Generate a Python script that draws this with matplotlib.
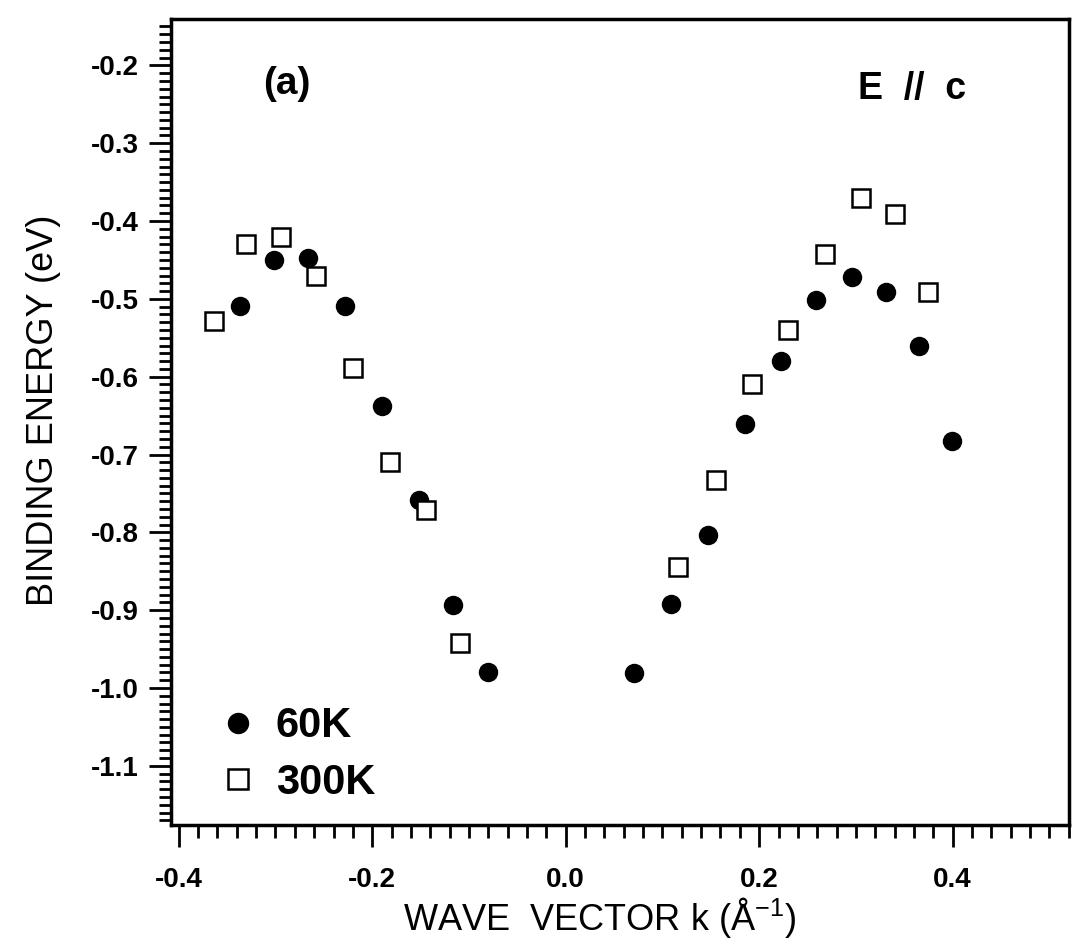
import matplotlib
matplotlib.use('Agg')
import matplotlib.pyplot as plt
from matplotlib.ticker import MultipleLocator, FormatStrFormatter

# 60 K (filled circles)
k_60 = [-0.337, -0.302, -0.266, -0.228, -0.190, -0.152, -0.116, -0.080,
        0.071, 0.109, 0.147, 0.185, 0.223, 0.259, 0.296, 0.331, 0.365, 0.399]
e_60 = [-0.509, -0.450, -0.448, -0.509, -0.638, -0.758, -0.893, -0.980,
        -0.981, -0.892, -0.803, -0.661, -0.580, -0.502, -0.472, -0.491, -0.560, -0.682]

# 300 K (open squares)
k_300 = [-0.364, -0.330, -0.294, -0.258, -0.220, -0.182, -0.144, -0.109,
         0.116, 0.155, 0.193, 0.230, 0.268, 0.305, 0.340, 0.374]
e_300 = [-0.529, -0.429, -0.420, -0.470, -0.589, -0.709, -0.771, -0.942,
         -0.844, -0.733, -0.610, -0.540, -0.442, -0.371, -0.391, -0.491]

labels = ['60K', '300K']


def main():
    plt.rcParams['font.family'] = ['Liberation Sans', 'DejaVu Sans']
    plt.rcParams['mathtext.fontset'] = 'custom'
    plt.rcParams['mathtext.rm'] = 'Liberation Sans'
    plt.rcParams['mathtext.it'] = 'Liberation Sans:italic'
    plt.rcParams['mathtext.bf'] = 'Liberation Sans:bold'
    plt.rcParams['axes.unicode_minus'] = False

    fig = plt.figure(figsize=(10.79, 9.51), dpi=100)
    ax = fig.add_axes([0.1585, 0.1325, 0.832, 0.847])

    ax.plot(k_60, e_60, 'o', color='black', ms=14, mew=0, label=labels[0])
    ax.plot(k_300, e_300, 's', mfc='white', mec='black', ms=13, mew=1.8,
            label=labels[1])

    ax.set_xlim(-0.408, 0.52)
    ax.set_ylim(-1.176, -0.141)

    ax.xaxis.set_major_locator(MultipleLocator(0.2))
    ax.xaxis.set_minor_locator(MultipleLocator(0.02))
    ax.yaxis.set_major_locator(MultipleLocator(0.1))
    ax.yaxis.set_minor_locator(MultipleLocator(0.01))
    ax.xaxis.set_major_formatter(FormatStrFormatter('%.1f'))
    ax.yaxis.set_major_formatter(FormatStrFormatter('%.1f'))

    for s in ax.spines.values():
        s.set_linewidth(2.5)
    ax.tick_params(which='both', direction='out', width=2, top=False, right=False)
    ax.tick_params(axis='x', which='major', length=16, pad=14)
    ax.tick_params(axis='x', which='minor', length=9)
    ax.tick_params(axis='y', which='major', length=16, pad=7)
    ax.tick_params(axis='y', which='minor', length=9)
    for lab in ax.get_xticklabels() + ax.get_yticklabels():
        lab.set_fontsize(20)
        lab.set_fontweight('bold')

    ax.set_xlabel(r'WAVE  VECTOR k (Å$^{-1}$)', fontsize=26, va='center')
    ax.xaxis.set_label_coords(0.478, -0.115)
    ax.set_ylabel('BINDING ENERGY (eV)', fontsize=26, va='center')
    ax.yaxis.set_label_coords(-0.1425, 0.515)

    ax.text(0.129, 0.920, '(a)', transform=ax.transAxes, fontsize=28,
            fontweight='bold', ha='center', va='center')
    ax.text(0.826, 0.914, 'E  //  c', transform=ax.transAxes, fontsize=27,
            fontweight='bold', ha='center', va='center')

    ax.legend(loc='lower left', bbox_to_anchor=(0.033, 0.0015), frameon=False,
              prop={'size': 30, 'weight': 'bold'}, borderpad=0,
              handlelength=0.8, handletextpad=0.5, labelspacing=0.4,
              markerscale=1.1)

    fig.savefig('out.png', dpi=100)


if __name__ == '__main__':
    main()
